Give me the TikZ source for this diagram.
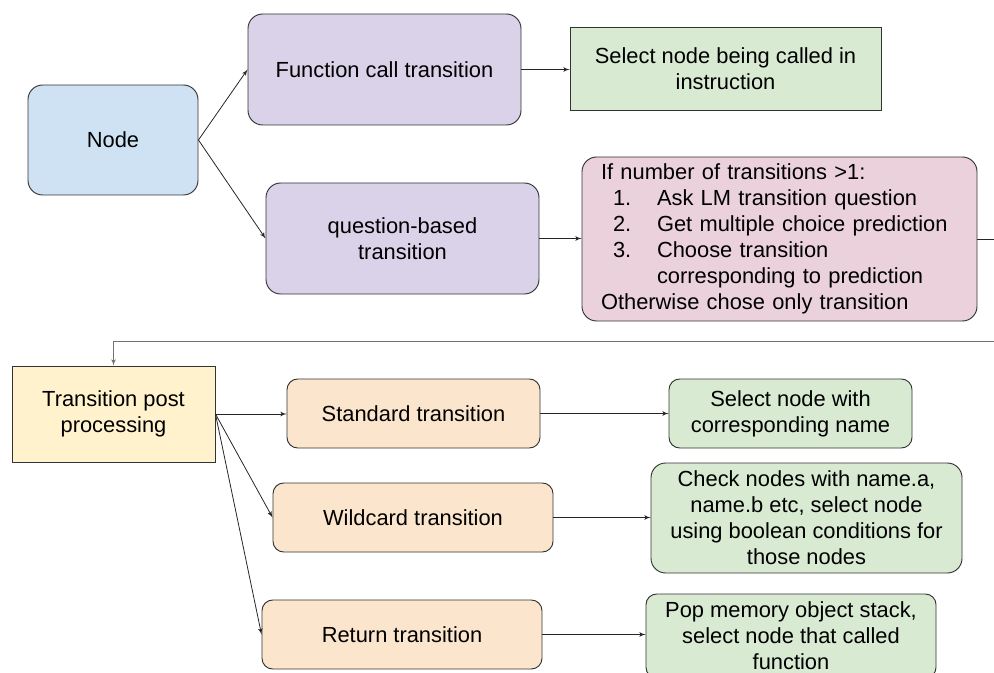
\documentclass[tikz,border=0pt]{standalone}
\usepackage{fontspec}
\setmainfont{Liberation Sans}
\usepackage{tikz}
\usetikzlibrary{shapes,arrows}
\definecolor{nodeblue}{HTML}{CFE2F3}
\definecolor{transpurple}{HTML}{D9D2E9}
\definecolor{selgreen}{HTML}{D9EAD3}
\definecolor{qpink}{HTML}{EAD1DC}
\definecolor{postyellow}{HTML}{FFF2CC}
\definecolor{postorange}{HTML}{FCE5CD}
\tikzset{%
    block/.style = {draw=black!80, line width=0.7pt, rectangle, align=center,
        inner sep=0pt, font=\fontsize{16.4}{19.5}\selectfont},
    rblock/.style = {block, rounded corners=11pt},
    sblock/.style = {block, rounded corners=8pt},
    link/.style = {->, draw=black!85, line width=0.6pt},
}

\begin{document}
\begin{tikzpicture}[x=0.75pt, y=-0.75pt, >=latex']
        \useasboundingbox (0,0) rectangle (994,673);
        \draw
            node at (113,140) [rblock, fill=nodeblue, minimum width=127.5pt, minimum height=82.5pt] (node)
            {Node}
            node at (384.5,69.5) [rblock, fill=transpurple, minimum width=204.75pt, minimum height=83.25pt] (fcall)
            {Function call transition}
            node at (725.5,68.5) [block, fill=selgreen, minimum width=233.25pt, minimum height=62.25pt] (selcall)
            {Select node being called in\\instruction}
            node at (402.5,238.5) [rblock, fill=transpurple, minimum width=204.75pt, minimum height=83.25pt] (qbased)
            {question-based\\transition}
            node at (779.5,239) [rblock, fill=qpink, align=left, inner xsep=14.25pt, text width=267.75pt, minimum height=123pt] (choose)
            {%
                If number of transitions >1:\\
                \makebox[42pt][l]{\hspace*{9pt}1.}Ask LM transition question\\
                \makebox[42pt][l]{\hspace*{9pt}2.}Get multiple choice prediction\\
                \makebox[42pt][l]{\hspace*{9pt}3.}Choose transition\\
                \makebox[42pt][l]{}corresponding to prediction\\
                Otherwise chose only transition
            }
            node at (113.5,414) [block, fill=postyellow, minimum width=152.25pt, minimum height=72pt] (post)
            {Transition post\\processing}
            node at (413.5,413.5) [sblock, fill=postorange, minimum width=189.75pt, minimum height=51.75pt] (standard)
            {Standard transition}
            node at (790.5,413.5) [sblock, fill=selgreen, minimum width=182.25pt, minimum height=51.75pt] (selname)
            {Select node with\\corresponding name}
            node at (413,517.5) [sblock, fill=postorange, minimum width=210pt, minimum height=51.75pt] (wildcard)
            {Wildcard transition}
            node at (806.5,518) [rblock, fill=selgreen, minimum width=233.25pt, minimum height=82.5pt] (selcond)
            {Check nodes with name.a,\\name.b etc, select node\\using boolean conditions for\\those nodes}
            node at (402,634.5) [sblock, fill=postorange, minimum width=210pt, minimum height=51.75pt] (return)
            {Return transition}
            node at (791,636) [sblock, fill=selgreen, minimum width=217.5pt, minimum height=63pt] (popstack)
            {Pop memory object stack,\\select node that called\\function};

        \coordinate (outa) at (994,237);
        \coordinate (outb) at (994,341);

        \draw[link](node.east) -- (fcall.west);
        \draw[link](node.east) -- (qbased.west);
        \draw[link](fcall.east) -- (fcall.east -| selcall.west);
        \draw[link](qbased.east) -- (qbased.east -| choose.west);
        \draw[link, -](choose.east) -- (choose.east -| outa);
        \draw[link, draw=black!55](outb) -| (post.north);
        \draw[link](post.east) -- (post.east -| standard.west);
        \draw[link](post.east) -- (wildcard.west);
        \draw[link](post.east) -- (return.west);
        \draw[link](standard.east) -- (selname.west);
        \draw[link](wildcard.east) -- (wildcard.east -| selcond.west);
        \draw[link](return.east) -- (return.east -| popstack.west);
    \end{tikzpicture}
\end{document}
